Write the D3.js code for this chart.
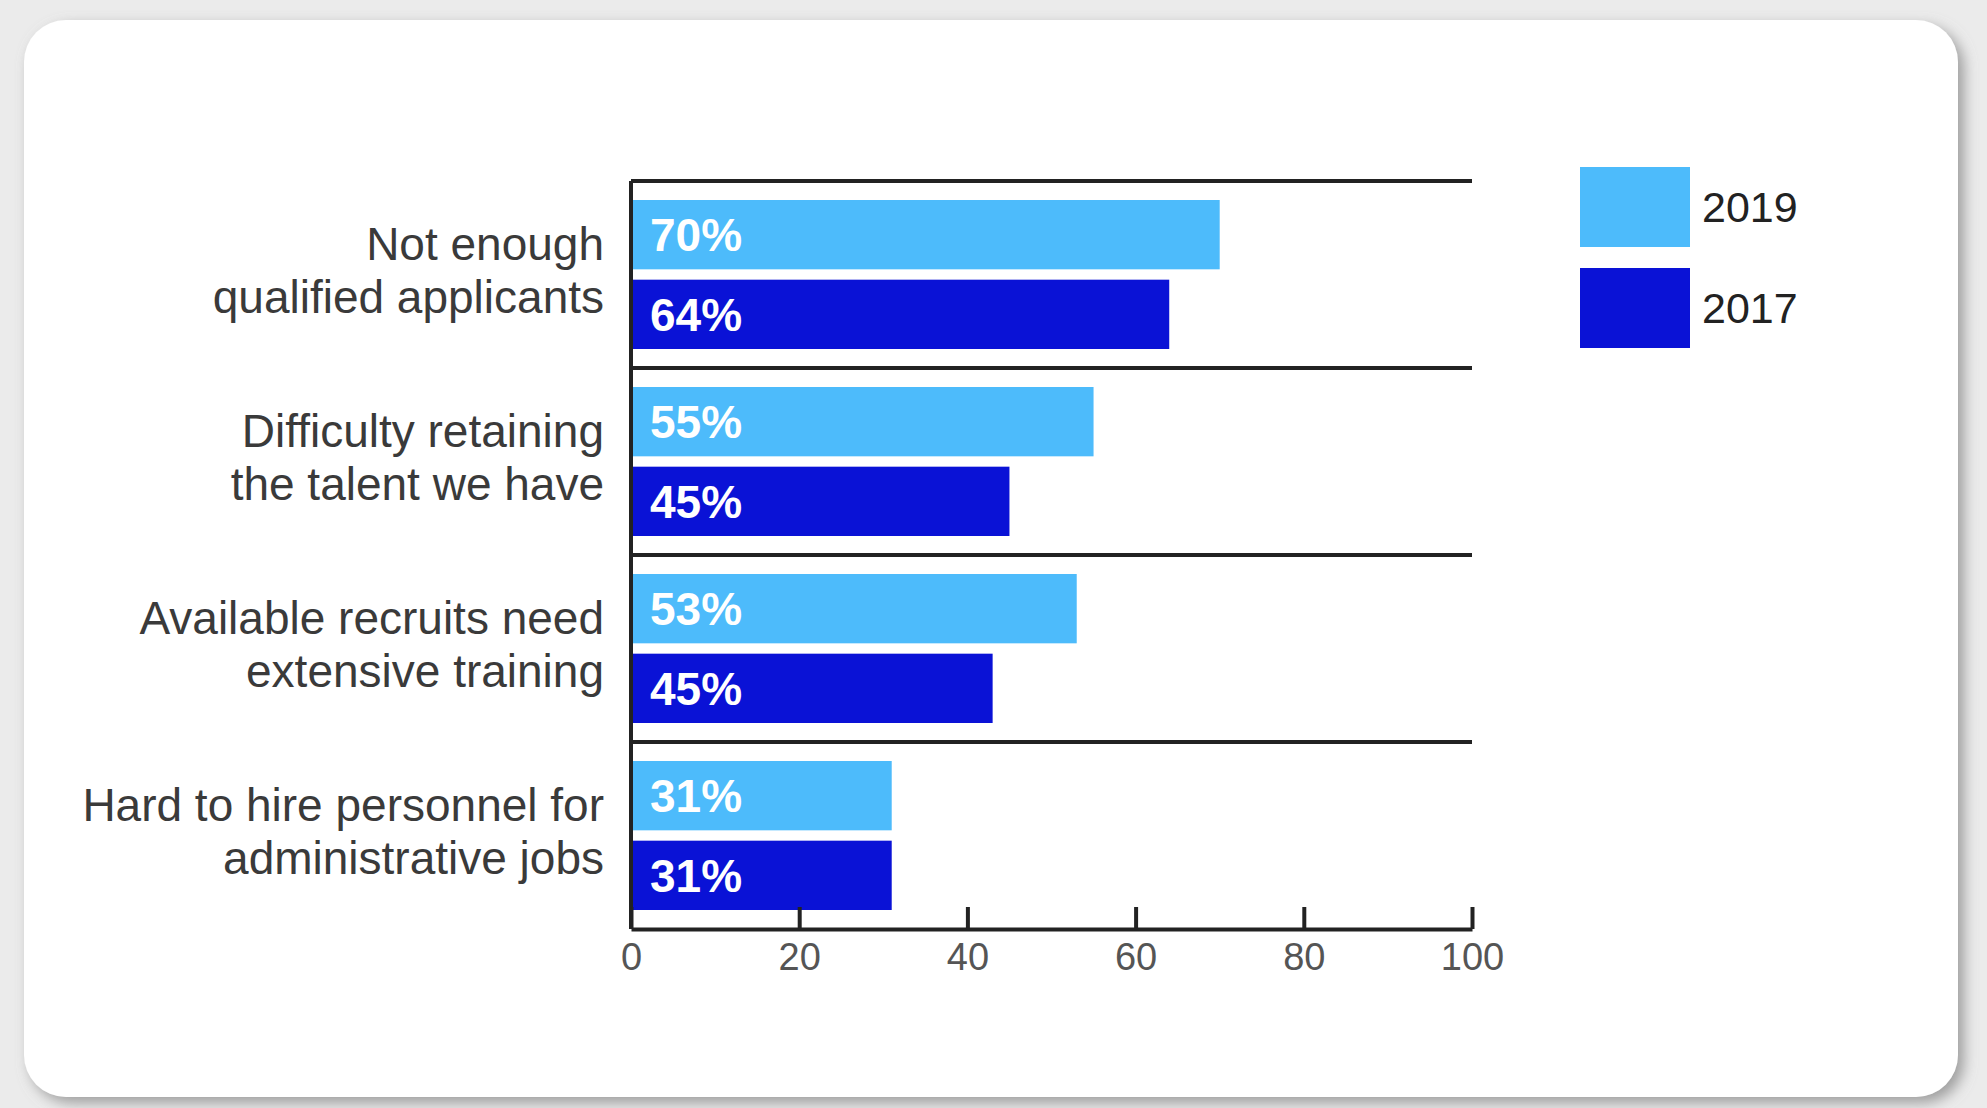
<!DOCTYPE html>
<html>
<head>
<meta charset="utf-8">
<script src="https://cdn.jsdelivr.net/npm/d3@7"></script>
<style>
  body { margin: 0; background: #e8e8e8; }
  svg { display: block; }
  .cat { font-family: "Liberation Sans", sans-serif; font-size: 46px; fill: #3a3a3a; }
  .pct { font-family: "Liberation Sans", sans-serif; font-size: 46px; font-weight: bold; fill: #fff; }
  .leg { font-family: "Liberation Sans", sans-serif; font-size: 43px; fill: #222; }
  .xaxis text { font-family: "Liberation Sans", sans-serif; font-size: 38px; fill: #555; }
</style>
</head>
<body>
<div id="chart"></div>
<script>
// chart data
var categories = [
  ["Not enough", "qualified applicants"],
  ["Difficulty retaining", "the talent we have"],
  ["Available recruits need", "extensive training"],
  ["Hard to hire personnel for", "administrative jobs"]
];
var years = ["2019", "2017"];
var values2019 = [70, 55, 53, 31];
var values2017 = [64, 45, 43, 31];
var labels2019 = ["70%", "55%", "53%", "31%"];
var labels2017 = ["64%", "45%", "45%", "31%"];
var xTicks = [0, 20, 40, 60, 80, 100];
var colors = { "2019": "#4dbbfb", "2017": "#0a12d6" };

var width = 1987, height = 1108;

var svg = d3.select("#chart").append("svg")
  .attr("width", width)
  .attr("height", height);

// card with shadow
var defs = svg.append("defs");
var f = defs.append("filter").attr("id", "shadow")
  .attr("x", "-5%").attr("y", "-5%").attr("width", "110%").attr("height", "110%");
f.append("feDropShadow").attr("dx", 6).attr("dy", 6)
  .attr("stdDeviation", 7).attr("flood-color", "#8a8a8a").attr("flood-opacity", 0.8);

svg.append("rect").attr("width", width).attr("height", height).attr("fill", "#ebebeb");
svg.append("rect")
  .attr("x", 24).attr("y", 20)
  .attr("width", 1934).attr("height", 1077)
  .attr("rx", 42)
  .attr("fill", "#fff")
  .attr("filter", "url(#shadow)");

var x = d3.scaleLinear().domain([0, 100]).range([631, 1472]);

var keys = categories.map(function (c) { return c.join(" "); });
var y = d3.scaleBand().domain(keys).range([181, 929]);
var ySub = d3.scaleBand().domain(years).range([19, 168]).paddingInner(0.13);

var rows = categories.map(function (c, i) {
  return {
    key: keys[i],
    lines: c,
    bars: [
      { year: "2019", value: values2019[i], label: labels2019[i] },
      { year: "2017", value: values2017[i], label: labels2017[i] }
    ]
  };
});

// separator lines at the top of every group
svg.append("g").selectAll("line")
  .data(keys)
  .join("line")
  .attr("x1", x(0)).attr("x2", x(100))
  .attr("y1", function (d) { return y(d); })
  .attr("y2", function (d) { return y(d); })
  .attr("stroke", "#222")
  .attr("stroke-width", 4);

var group = svg.append("g").selectAll("g")
  .data(rows)
  .join("g")
  .attr("transform", function (d) { return "translate(0," + y(d.key) + ")"; });

group.selectAll("rect")
  .data(function (d) { return d.bars; })
  .join("rect")
  .attr("x", x(0))
  .attr("y", function (d) { return ySub(d.year); })
  .attr("width", function (d) { return x(d.value) - x(0); })
  .attr("height", ySub.bandwidth())
  .attr("fill", function (d) { return colors[d.year]; });

group.selectAll("text.pct")
  .data(function (d) { return d.bars; })
  .join("text")
  .attr("class", "pct")
  .attr("x", x(0) + 19)
  .attr("y", function (d) { return ySub(d.year) + ySub.bandwidth() / 2; })
  .attr("dy", "0.36em")
  .text(function (d) { return d.label; });

// category labels, two lines each
group.each(function (d) {
  var t = d3.select(this).append("text")
    .attr("class", "cat")
    .attr("text-anchor", "end")
    .attr("x", 604);
  var mid = y.bandwidth() / 2 - 5;
  d.lines.forEach(function (line, j) {
    t.append("tspan")
      .attr("x", 604)
      .attr("y", mid + (j - 0.5) * 53)
      .attr("dy", "0.36em")
      .text(line);
  });
});

// y axis line
svg.append("line")
  .attr("x1", x(0)).attr("x2", x(0))
  .attr("y1", 181).attr("y2", 929)
  .attr("stroke", "#222")
  .attr("stroke-width", 4);

// x axis with inward ticks
var xAxis = svg.append("g")
  .attr("class", "xaxis")
  .attr("transform", "translate(0,929)")
  .call(d3.axisBottom(x).tickValues(xTicks).tickSize(-22).tickSizeOuter(0).tickPadding(14));
xAxis.select(".domain").attr("stroke", "#222").attr("stroke-width", 4);
xAxis.selectAll(".tick line").attr("stroke", "#222").attr("stroke-width", 4);
xAxis.selectAll(".tick text").attr("fill", "#555");

// legend
var legend = svg.append("g").selectAll("g")
  .data(years)
  .join("g")
  .attr("transform", function (d, i) { return "translate(1580," + (167 + i * 101) + ")"; });
legend.append("rect")
  .attr("width", 110).attr("height", 80)
  .attr("fill", function (d) { return colors[d]; });
legend.append("text")
  .attr("class", "leg")
  .attr("x", 122).attr("y", 40)
  .attr("dy", "0.36em")
  .text(function (d) { return d; });
</script>
</body>
</html>
